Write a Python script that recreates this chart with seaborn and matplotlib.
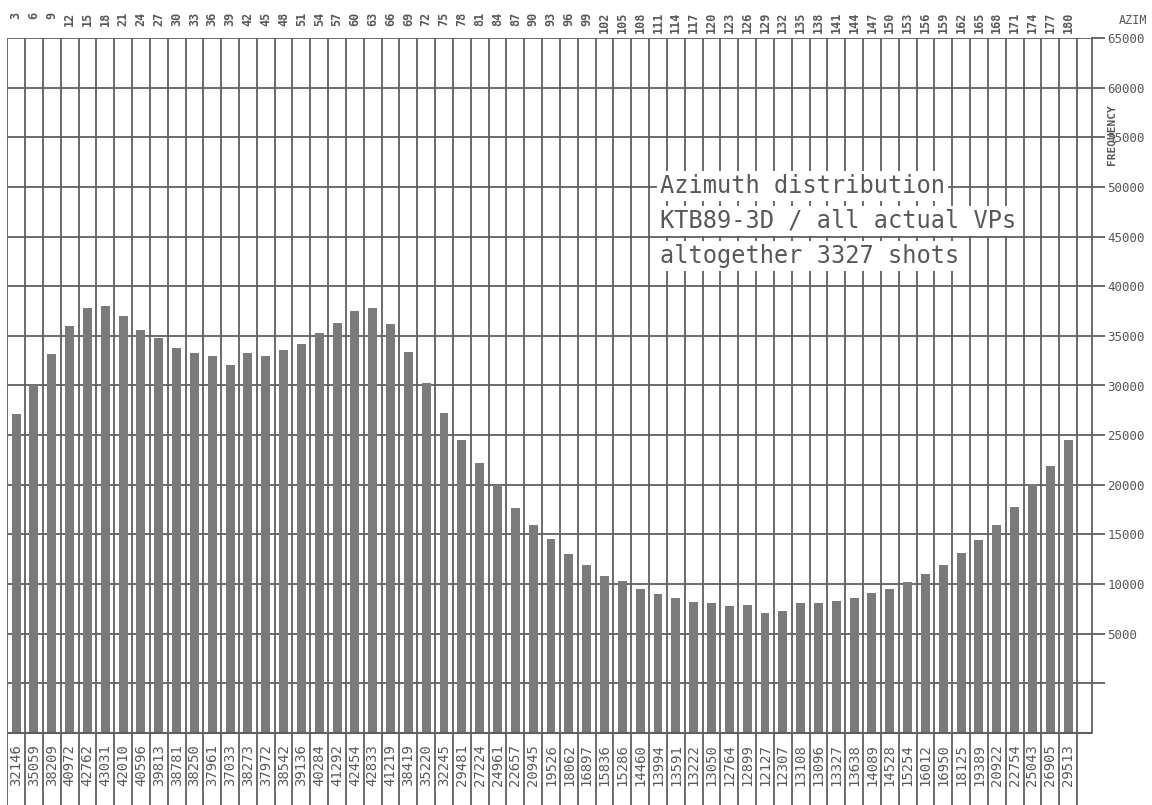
import numpy as np
import pandas as pd
import matplotlib
matplotlib.use("Agg")
import matplotlib.pyplot as plt
import seaborn as sns

# Azimuth classes (3 degree bins) and shot counts printed under each bar
azimuth = [3, 6, 9, 12, 15, 18, 21, 24, 27, 30, 33, 36, 39, 42, 45, 48, 51, 54, 57, 60,
           63, 66, 69, 72, 75, 78, 81, 84, 87, 90, 93, 96, 99, 102, 105, 108, 111, 114, 117, 120,
           123, 126, 129, 132, 135, 138, 141, 144, 147, 150, 153, 156, 159, 162, 165, 168, 171, 174, 177, 180]
counts = [32146, 35059, 38209, 40972, 42762, 43031, 42010, 40596, 39813, 38781,
          38250, 37961, 37033, 38273, 37972, 38542, 39136, 40284, 41292, 42454,
          42833, 41219, 38419, 35220, 32245, 29481, 27224, 24961, 22657, 20945,
          19526, 18062, 16897, 15836, 15286, 14460, 13994, 13591, 13222, 13050,
          12764, 12899, 12127, 12307, 13108, 13096, 13327, 13638, 14089, 14528,
          15254, 16012, 16950, 18125, 19389, 20922, 22754, 25043, 26905, 29513]

# right axis ticks as printed by the plotter (labels sit one step low)
freq_ticks = [5000, 10000, 15000, 20000, 25000, 30000, 35000, 40000, 45000,
              50000, 55000, 60000, 65000, 70000]
freq_labels = ["", "5000", "10000", "15000", "20000", "25000", "30000", "35000",
               "40000", "45000", "50000", "55000", "60000", "65000"]

title_lines = ["Azimuth distribution", "KTB89-3D / all actual VPs", "altogether 3327 shots"]

df = pd.DataFrame({"azim": azimuth, "count": counts})

sns.set_style("white")
plt.rcParams["font.family"] = ["DejaVu Sans Mono", "DejaVu Sans"]

W, H = 1152, 805
fig = plt.figure(figsize=(W / 100, H / 100), dpi=100)
x0, x1 = 7.2, 1092
y_top, y_base = 38, 733
ax = fig.add_axes([x0 / W, 0, (x1 - x0) / W, 1 - y_top / H])

line_c = "#606060"
bar_c = "#7a7a7a"
text_c = "#585858"

sns.barplot(data=df, x="azim", y="count", color=bar_c, width=0.5, saturation=1,
            edgecolor="none", ax=ax, zorder=3)

ymax = 70000
ppu = (y_base - y_top) / ymax
ymin = -(H - y_base) / ppu
xmax = -0.5 + (x1 - x0) / 17.83
ax.set_xlim(-0.5, xmax)
ax.set_ylim(ymin, ymax)

n = len(azimuth)
# vertical grid through plot and label strip
ax.vlines(np.arange(n + 1) - 0.5, ymin, ymax, color=line_c, lw=1.3, zorder=2)
# horizontal grid
ax.hlines(freq_ticks, -0.5, xmax, color=line_c, lw=1.3, zorder=2)
ax.hlines(0, -0.5, xmax, color=line_c, lw=1.5, zorder=4)

for s in ["left", "top", "bottom"]:
    ax.spines[s].set_visible(False)
ax.spines["right"].set_bounds(0, ymax)
ax.spines["right"].set_color(line_c)
ax.spines["right"].set_linewidth(1.3)
ax.yaxis.tick_right()
ax.set_yticks(freq_ticks)
ax.set_yticklabels(freq_labels)
ax.tick_params(axis="y", direction="out", length=9, width=1.3, color=line_c,
               labelsize=9, labelcolor=text_c, pad=2, right=True, left=False)
ax.set_xticks([])
ax.set_xlabel("")
ax.set_ylabel("")

# counts under bars
for i, c in enumerate(counts):
    ax.text(i, -1100, str(c), rotation=90, ha="center", va="top", fontsize=10,
            color=text_c, zorder=5)

# azimuth labels on top
for i, a in enumerate(azimuth):
    fig.text((x0 + (i + 0.5) * 17.83) / W, 1 - 12 / H, str(a), rotation=90,
             ha="center", va="top", fontsize=8.5, color=text_c, fontweight="bold")

fig.text(1133 / W, 1 - 20 / H, "AZIM", ha="center", va="center", fontsize=8.5, color=text_c)
fig.text(1112 / W, 1 - 135 / H, "FREQUENCY", rotation=90, ha="center", va="center",
         fontsize=8, color=text_c, fontweight="bold")

# title block, each line on its own white patch
for k, t in enumerate(title_lines):
    fig.text(660 / W, 1 - (186 + k * 35) / H, t, ha="left", va="center", fontsize=17,
             color=text_c, zorder=10,
             bbox=dict(facecolor="white", edgecolor="none", pad=2))

fig.savefig("out.png", dpi=100)
